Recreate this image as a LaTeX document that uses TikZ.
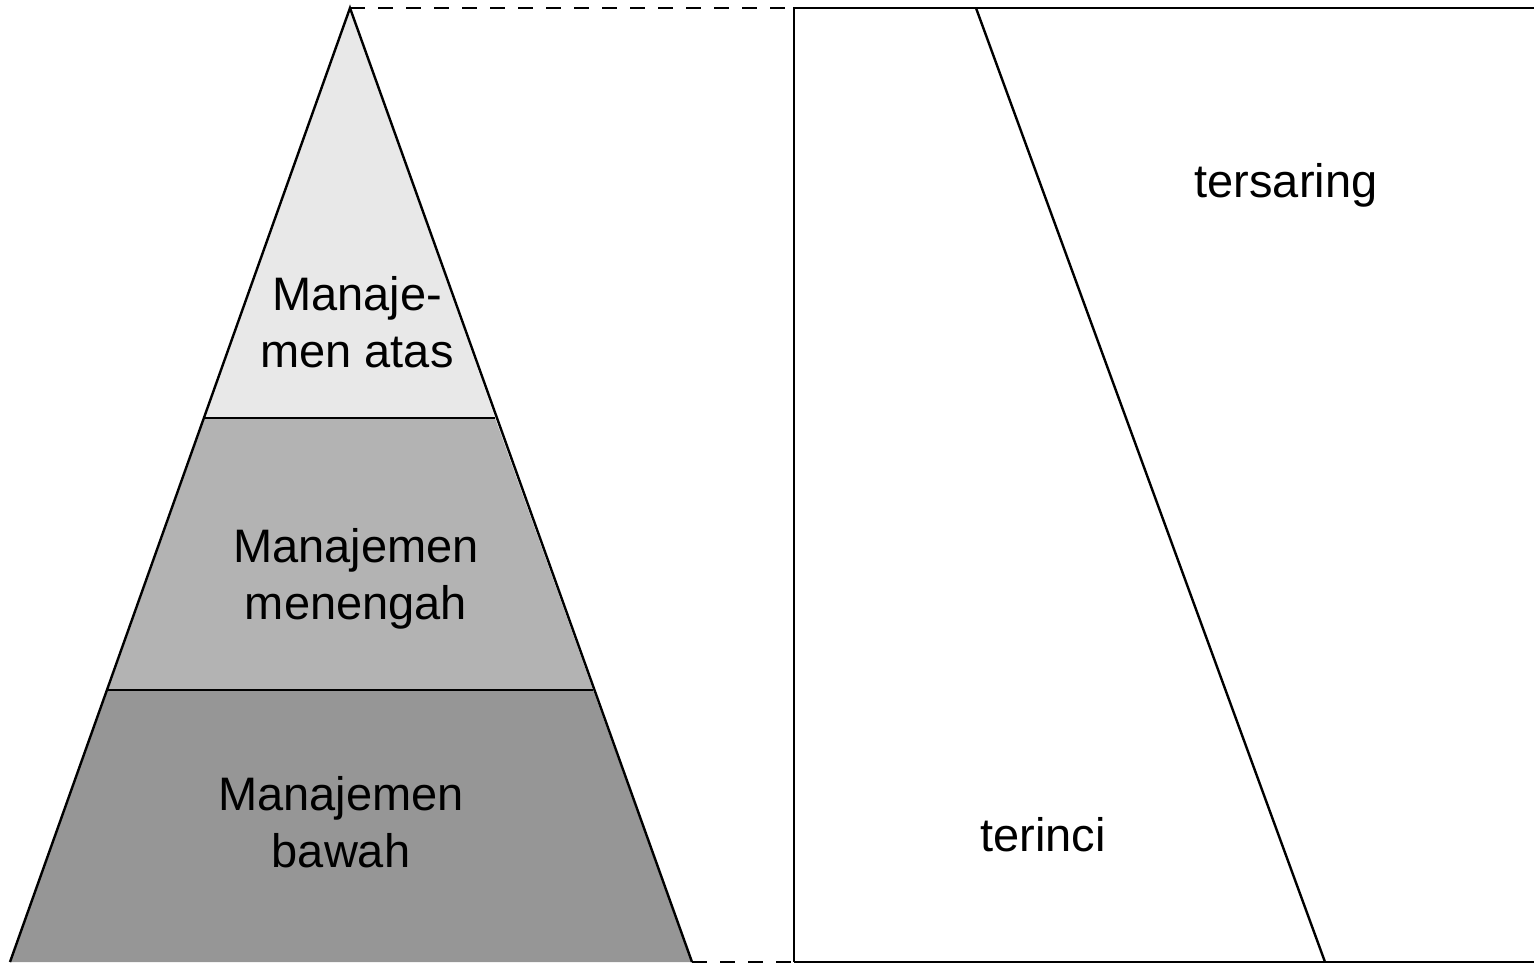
\documentclass[tikz,border=0pt]{standalone}
\usepackage{fontspec}
\setmainfont{Liberation Sans}
\definecolor{topgrey}{HTML}{E8E8E8}
\definecolor{midgrey}{HTML}{B3B3B3}
\definecolor{botgrey}{HTML}{969696}
\begin{document}
\begin{tikzpicture}[x=1pt,y=-1pt,
  edge/.style={line width=2.4pt,line join=miter},
  guide/.style={line width=2.4pt,dash pattern=on 15pt off 13pt},
  lbl/.style={align=center,font=\fontsize{47}{57}\selectfont,inner sep=0pt}]
\useasboundingbox (0,0) rectangle (1534,962);
\clip (0,0) rectangle (1534,962);
% pyramid key points
\coordinate (apex) at (350,8);
\coordinate (bl) at (10,962);
\coordinate (br) at (692,962);
\coordinate (l1) at (205,418);
\coordinate (r1) at (495,418);
\coordinate (l2) at (108,690);
\coordinate (r2) at (593,690);
% fills
\fill[topgrey] (apex) -- (r1) -- (l1) -- cycle;
\fill[midgrey] (l1) -- (r1) -- (r2) -- (l2) -- cycle;
\fill[botgrey] (l2) -- (r2) -- (br) -- (bl) -- cycle;
% outlines
\draw[edge] (bl) -- (apex) -- (br);
\draw[edge] (l1) -- (r1);
\draw[edge] (l2) -- (r2);
% right frame
\coordinate (rtl) at (794,8);
\coordinate (rtr) at (1600,8);
\coordinate (rbl) at (794,962);
\coordinate (rbr) at (1600,962);
\draw[edge] (rbl) -- (rtl) -- (rtr);
\draw[edge] (rbl) -- (rbr);
\coordinate (dtop) at (976,8);
\coordinate (dbot) at (1325,962);
\draw[edge] (dtop) -- (dbot);
% dashed guides
\draw[guide] (apex) -- (rtl);
\draw[guide] (br) -- (rbl);
% labels
\node[lbl] (top) at (357,322) {Manaje-\\men atas};
\node[lbl] (mid) at (356,579) {Manajemen\\menengah};
\node[lbl] (bot) at (341,822) {Manajemen\\bawah};
\node[lbl] (filt) at (1286,185) {tersaring};
\node[lbl] (det) at (1043,835) {terinci};
\end{tikzpicture}
\end{document}
